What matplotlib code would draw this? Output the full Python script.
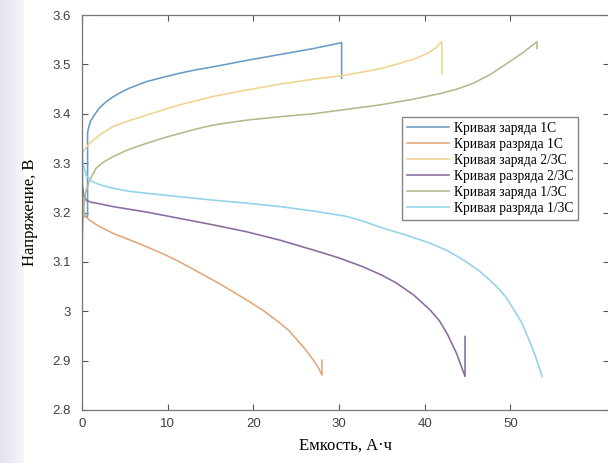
import numpy as np
import matplotlib
matplotlib.use("Agg")
import matplotlib.pyplot as plt

# Кривая заряда 1C
x_ch1 = [0.05, 0.05, 0.65, 0.65, 0.8, 1.0, 1.5, 2.05, 2.8, 3.6, 4.5, 5.56, 7.5, 9.5, 11.4, 13.3,
         15.3, 19.2, 23.1, 27.0, 30.3, 30.3]
v_ch1 = [3.301, 3.192, 3.192, 3.361, 3.374, 3.385, 3.399, 3.412, 3.424, 3.434, 3.443, 3.452, 3.465,
         3.474, 3.482, 3.489, 3.495, 3.508, 3.520, 3.532, 3.544, 3.472]
# Кривая разряда 1C
x_dis1 = [0.0, 0.15, 0.4, 1.0, 2.0, 3.6, 5.5, 7.5, 9.5, 11.4, 13.3, 15.3, 17.2, 19.2, 21.2, 23.1,
          24.2, 25.1, 26.1, 27.0, 27.6, 28.0, 28.0]
v_dis1 = [3.27, 3.21, 3.192, 3.183, 3.172, 3.158, 3.145, 3.131, 3.116, 3.100, 3.082, 3.063, 3.044,
          3.023, 3.001, 2.976, 2.960, 2.942, 2.922, 2.901, 2.885, 2.871, 2.901]
# Кривая заряда 2/3C
x_ch23 = [0.0, 0.4, 0.9, 2.05, 3.6, 5.5, 7.5, 9.5, 11.4, 15.3, 19.2, 23.1, 27.0, 30.3, 33.2, 35.2,
          37.1, 38.8, 40.3, 41.2, 42.0, 42.0]
v_ch23 = [3.32, 3.33, 3.34, 3.357, 3.374, 3.386, 3.397, 3.408, 3.418, 3.435, 3.448, 3.460, 3.470,
          3.477, 3.486, 3.493, 3.502, 3.511, 3.522, 3.532, 3.546, 3.482]
# Кривая разряда 2/3C
x_dis23 = [0.0, 0.2, 0.5, 1.0, 1.66, 3.6, 7.5, 11.4, 15.3, 19.2, 23.1, 27.0, 30.0, 32.8, 35.0, 36.7,
           38.7, 40.6, 41.7, 42.6, 43.7, 44.7, 44.7]
v_dis23 = [3.26, 3.235, 3.225, 3.221, 3.219, 3.212, 3.201, 3.188, 3.175, 3.161, 3.144, 3.124, 3.108,
           3.090, 3.073, 3.057, 3.033, 3.003, 2.981, 2.955, 2.915, 2.868, 2.949]
# Кривая заряда 1/3C
x_ch13 = [0.0, 0.15, 0.4, 0.9, 1.66, 2.5, 3.6, 5.5, 7.5, 9.5, 11.4, 13.3, 15.3, 17.2, 19.2, 23.1,
          27.0, 30.9, 34.8, 38.5, 41.8, 43.8, 45.7, 47.7, 49.6, 51.4, 53.1, 53.1]
v_ch13 = [3.13, 3.20, 3.24, 3.266, 3.29, 3.302, 3.313, 3.328, 3.340, 3.351, 3.360, 3.369, 3.377,
          3.382, 3.387, 3.394, 3.400, 3.409, 3.418, 3.429, 3.441, 3.450, 3.462, 3.480, 3.502, 3.523,
          3.546, 3.532]
# Кривая разряда 1/3C
x_dis13 = [0.0, 0.1, 0.5, 1.0, 1.66, 2.5, 3.6, 5.5, 7.5, 11.4, 15.3, 19.2, 23.1, 27.0, 30.9, 32.9,
           34.8, 37.7, 40.6, 42.6, 44.5, 46.5, 48.4, 49.5, 50.4, 51.3, 52.0, 52.9, 53.7]
v_dis13 = [3.34, 3.30, 3.275, 3.265, 3.259, 3.254, 3.249, 3.243, 3.239, 3.232, 3.225, 3.219, 3.212,
           3.203, 3.192, 3.182, 3.170, 3.155, 3.138, 3.123, 3.104, 3.080, 3.050, 3.028, 3.003, 2.977,
           2.949, 2.910, 2.868]

labels = ["Кривая заряда 1С", "Кривая разряда 1С", "Кривая заряда 2/3С",
          "Кривая разряда 2/3С", "Кривая заряда 1/3С", "Кривая разряда 1/3С"]
colors = ["#6a9bc3", "#e3a67a", "#efd38f", "#8a6a9e", "#b0bb8c", "#92d2ea"]

fig = plt.figure(figsize=(6.08, 4.63), dpi=100)

# фон слева (сиреневый градиент)
bg = fig.add_axes([0, 0, 24 / 608, 1])
grad = np.linspace(0, 1, 50).reshape(1, -1)
bg.imshow(grad, aspect="auto", cmap=matplotlib.colors.LinearSegmentedColormap.from_list(
    "g", ["#e6e1ef", "#f7f6fa"]))
bg.axis("off")

ax = fig.add_axes([82 / 608, 53 / 463, (609 - 82) / 608, (410 - 15) / 463])
series = [(x_ch1, v_ch1), (x_dis1, v_dis1), (x_ch23, v_ch23),
          (x_dis23, v_dis23), (x_ch13, v_ch13), (x_dis13, v_dis13)]
for (x, v), c, lab in zip(series, colors, labels):
    ax.plot(x, v, color=c, lw=1.15, label=lab)

ax.set_xlim(0, 61.5)
ax.set_ylim(2.8, 3.6)
ax.set_xticks([0, 10, 20, 30, 40, 50])
ax.set_yticks([2.8, 2.9, 3.0, 3.1, 3.2, 3.3, 3.4, 3.5, 3.6])
ax.set_yticklabels(["2.8", "2.9", "3", "3.1", "3.2", "3.3", "3.4", "3.5", "3.6"])
ax.tick_params(direction="in", length=4, width=0.8, top=True, right=True,
               labelsize=9.5, labelcolor="#404040", color="#555555")
ax.tick_params(axis="y", pad=8)
ax.tick_params(axis="x", pad=6)
for lab in ax.get_xticklabels() + ax.get_yticklabels():
    lab.set_family("Liberation Sans")
for s in ax.spines.values():
    s.set_color("#777777")
    s.set_linewidth(0.9)

ax.set_xlabel("Емкость, А·ч", family="Liberation Serif", fontsize=12, labelpad=5)
ax.set_ylabel("Напряжение, В", family="Liberation Serif", fontsize=12, labelpad=10)

leg = ax.legend(loc="upper left", bbox_to_anchor=(0.595, 0.758), frameon=True,
                fancybox=False, edgecolor="#666666", handlelength=3.1,
                handletextpad=0.35, labelspacing=0.22, borderpad=0.35,
                prop={"family": "Liberation Serif", "size": 9.8})
leg.get_frame().set_linewidth(1.0)

fig.savefig("out.png", dpi=100)
